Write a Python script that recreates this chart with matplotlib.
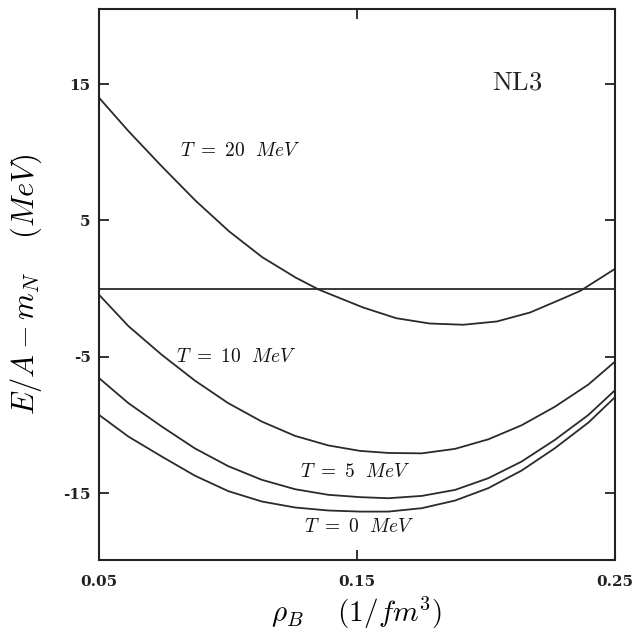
import matplotlib
matplotlib.use("Agg")
import matplotlib.pyplot as plt

plt.rcParams["mathtext.fontset"] = "cm"
plt.rcParams["font.family"] = ["DejaVu Serif"]

# density grid (1/fm^3) and E/A - m_N (MeV)
rho = [0.05, 0.0614, 0.0743, 0.0872, 0.1001, 0.1131, 0.1260, 0.1389, 0.1512,
       0.1621, 0.1751, 0.1880, 0.2009, 0.2138, 0.2267, 0.2397, 0.25]
e_t0 = [-9.26, -10.85, -12.31, -13.72, -14.85, -15.61, -16.05, -16.27, -16.35,
        -16.35, -16.10, -15.54, -14.63, -13.34, -11.70, -9.82, -7.96]
e_t5 = [-6.56, -8.40, -10.11, -11.72, -13.02, -14.02, -14.71, -15.12, -15.29,
        -15.37, -15.20, -14.76, -13.90, -12.68, -11.09, -9.26, -7.45]
e_t10 = [-0.45, -2.75, -4.85, -6.75, -8.40, -9.75, -10.80, -11.50, -11.90,
         -12.05, -12.08, -11.75, -11.05, -10.02, -8.66, -7.03, -5.35]
rho20 = [0.05, 0.0614, 0.0744, 0.0874, 0.1004, 0.1133, 0.1263, 0.1354, 0.1523,
         0.1652, 0.1782, 0.1912, 0.2042, 0.2171, 0.2301, 0.2366, 0.25]
e_t20 = [14.0, 11.55, 8.95, 6.45, 4.2, 2.3, 0.8, -0.09, -1.38,
         -2.17, -2.56, -2.65, -2.41, -1.75, -0.70, -0.16, 1.45]

labels = ["$T\\ =\\ 0\\ \\ MeV$", "$T\\ =\\ 5\\ \\ MeV$",
          "$T\\ =\\ 10\\ \\ MeV$", "$T\\ =\\ 20\\ \\ MeV$"]
label_pos = [(0.1508, -17.47), (0.1492, -13.44), (0.1031, -5.0), (0.1047, 10.1)]

xticks = [0.05, 0.15, 0.25]
yticks = [15, 5, -5, -15]

fig = plt.figure(figsize=(6.33, 6.35), dpi=100)
ax = fig.add_axes([0.1564, 0.1181, 0.8152, 0.8677])

lc = "#2a2a2a"
lw = 1.3
ax.plot(rho, e_t0, color=lc, lw=lw)
ax.plot(rho, e_t5, color=lc, lw=lw)
ax.plot(rho, e_t10, color=lc, lw=lw)
ax.plot(rho20, e_t20, color=lc, lw=lw)
ax.axhline(0, color=lc, lw=lw)

for txt, (x, y) in zip(labels, label_pos):
    ax.text(x, y, txt, ha="center", va="center", fontsize=14, color="#111111")
ax.text(0.2122, 15.17, "$\\mathrm{NL3}$", ha="center", va="center",
        fontsize=19, color="#222222")

ax.set_xlim(0.05, 0.25)
ax.set_ylim(-19.9, 20.5)
ax.set_xticks(xticks)
ax.set_xticklabels(["0.05", "0.15", "0.25"], fontweight="bold", fontsize=11)
ax.set_yticks(yticks)
ax.set_yticklabels([str(v) for v in yticks], fontweight="bold", fontsize=11)
ax.tick_params(direction="in", length=7, width=1.3, top=True, right=True,
               colors="#222222")
ax.tick_params(axis="x", pad=11)
ax.tick_params(axis="y", pad=6)
for s in ax.spines.values():
    s.set_linewidth(1.5)
    s.set_color("#222222")

ax.set_xlabel("$\\rho_B\\ \\ \\ \\ (1/fm^3)$", fontsize=21, labelpad=4)
ax.set_ylabel("$E/A - m_N\\ \\ \\ \\ (MeV)$", fontsize=22, labelpad=14)

fig.savefig("out.png", facecolor="white")
